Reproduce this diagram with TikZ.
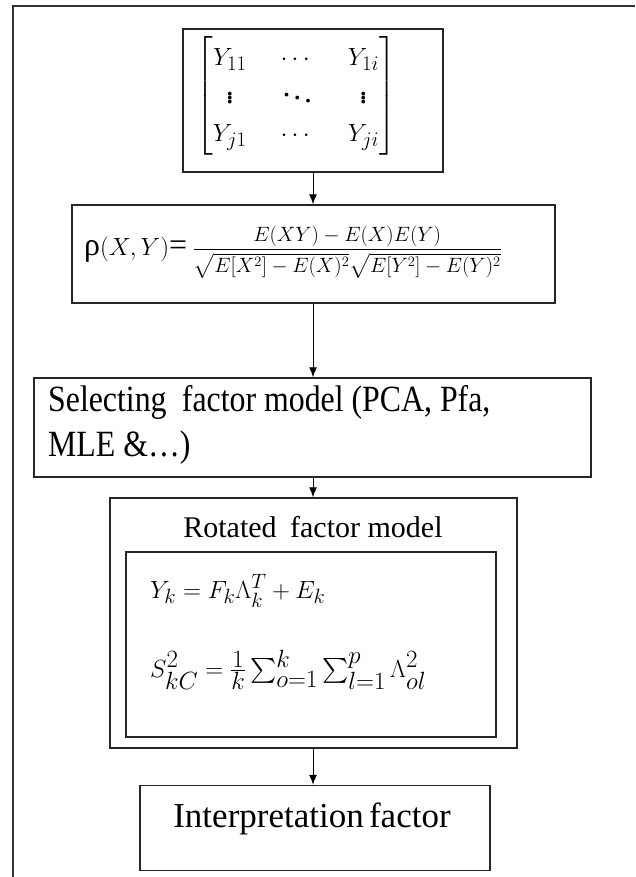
\documentclass[tikz,border=0pt]{standalone}
\usepackage{amsmath}
\usepackage{fontspec}
\setmainfont{Liberation Serif}
\newfontfamily\narrowserif[FakeStretch=0.86]{Liberation Serif}
\usetikzlibrary{arrows.meta}

\begin{document}
\begin{tikzpicture}[x=1pt,y=-1pt,
  stagebox/.style={draw=black!85, line width=1.4pt, inner sep=0pt},
  flow/.style={-{Latex[length=10pt,width=8pt]}, line width=1pt, draw=black},
  txt/.style={inner sep=0pt, text=black},
  ]
\useasboundingbox (0,0) rectangle (635,877);

% outer frame
\draw[line width=2pt, black!80] (13,877) -- (13,6) -- (635,6);

% stage boxes
\node[stagebox, minimum width=260pt, minimum height=143pt] (data) at (313,100.5) {};
\node[stagebox, minimum width=483pt, minimum height=98pt] (corr) at (313.5,254) {};
\node[stagebox, minimum width=557pt, minimum height=99pt] (select) at (312.5,427.5) {};
\node[stagebox, minimum width=407pt, minimum height=250pt] (rot) at (313.5,623) {};
\node[stagebox, minimum width=370pt, minimum height=185pt] (rotin) at (311,644.5) {};
\node[stagebox, minimum width=350pt, minimum height=85pt] (interp) at (315,828) {};

% contents
\node[txt] (mat) at (296,96) {\fontsize{32}{38}\selectfont\setlength{\arraycolsep}{17pt}%
  $\begin{bmatrix} Y_{11} & \cdots & Y_{1i}\\ \vdots & \ddots & \vdots\\ Y_{j1} & \cdots & Y_{ji}\end{bmatrix}$};

\node[txt, anchor=west] (rho) at (84,252) {{\fontsize{32}{38}\selectfont ρ$(X,Y)$=\,}{\fontsize{22.5}{27}\selectfont
  $\displaystyle\frac{E(XY)-E(X)E(Y)}{\sqrt{E[X^2]-E(X)^2}\sqrt{E[Y^2]-E(Y)^2}}$}};

\node[txt, anchor=base west] (sel1) at (48,411) {\fontsize{37}{44}\narrowserif Selecting\hspace{0.2em} factor model (PCA, Pfa,};
\node[txt, anchor=base west] (sel2) at (48,456) {\fontsize{37}{44}\narrowserif MLE \&…)};

\node[txt, anchor=base] (rottitle) at (313,537) {\fontsize{30}{36}\selectfont Rotated\hspace{0.2em} factor model};
\node[txt, anchor=base west] (model) at (150,598) {\fontsize{31}{37}\selectfont $Y_k = F_k\Lambda_k^T + E_k$};
\node[txt, anchor=base west] (comm) at (150,677) {\fontsize{33}{39}\selectfont
  $S_{kC}^2 = \frac{1}{k}\sum_{o=1}^{k}\sum_{l=1}^{p}\Lambda_{ol}^2$};

\node[txt, anchor=base] (interptext) at (312,827) {\fontsize{35}{42}\selectfont Interpretation\hspace{-0.1em} factor};

% connectors
\draw[flow] (data.south) -- (data.south |- corr.north);
\draw[flow] (data.south |- corr.south) -- (data.south |- select.north);
\draw[flow] (data.south |- select.south) -- (data.south |- rot.north);
\draw[flow] (data.south |- rot.south) -- (data.south |- interp.north);
\end{tikzpicture}
\end{document}
